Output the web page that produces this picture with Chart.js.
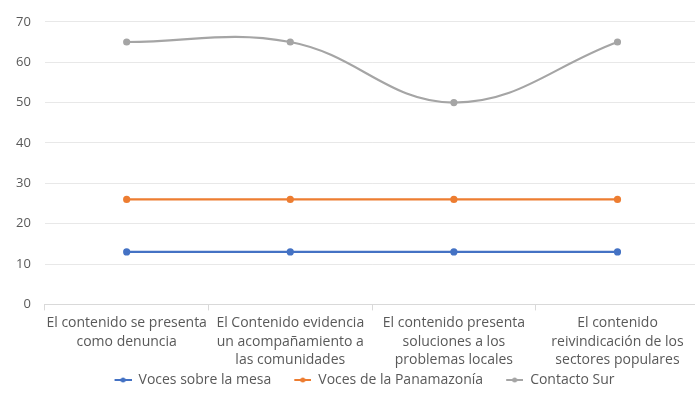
<!DOCTYPE html>
<html>
<head>
<meta charset="utf-8">
<script src="https://cdn.jsdelivr.net/npm/chart.js@4/dist/chart.umd.min.js"></script>
<style>
  body { margin: 0; background: #fff; }
  #wrap { width: 695px; height: 409px; overflow: hidden; }
</style>
</head>
<body>
<div id="wrap"><canvas id="lineChart" width="704" height="409"></canvas></div>
<script>
//Categories (x axis)
const categories = [
    ['El contenido se presenta', 'como denuncia'],
    ['El Contenido evidencia', 'un acompañamiento a', 'las comunidades'],
    ['El contenido presenta', 'soluciones a los', 'problemas locales'],
    ['El contenido', 'reivindicación de los', 'sectores populares']
];

//Series values
const vocesMesa = [13, 13, 13, 13];
const vocesPanamazonia = [26, 26, 26, 26];
const contactoSur = [65, 65, 50, 65];

const seriesColors = ['#4472c4', '#ed7d31', '#a5a5a5'];
const textColor = '#595959';
const fontFamily = '"Open Sans", "Noto Sans", sans-serif';

//Legend marker: a short line with a dot (Excel style), drawn on the right side
//of a wider transparent box so the items get spaced out
function legendMarker(color) {
    const c = document.createElement('canvas');
    c.width = 40;
    c.height = 8;
    const g = c.getContext('2d');
    g.strokeStyle = color;
    g.lineWidth = 2;
    g.beginPath();
    g.moveTo(23, 4);
    g.lineTo(40, 4);
    g.stroke();
    g.fillStyle = color;
    g.beginPath();
    g.arc(31.5, 4, 2.5, 0, Math.PI * 2);
    g.fill();
    return c;
}

//Builds one dataset
function makeSeries(label, values, color, tension) {
    return {
        label: label,
        data: values,
        borderColor: color,
        backgroundColor: color,
        borderWidth: 2.2,
        pointRadius: 2.5,
        pointHoverRadius: 2.5,
        tension: tension
    };
}

const data = {
    labels: categories,
    datasets: [
        makeSeries('Voces sobre la mesa', vocesMesa, seriesColors[0], 0),
        makeSeries('Voces de la Panamazonía', vocesPanamazonia, seriesColors[1], 0),
        makeSeries('Contacto Sur', contactoSur, seriesColors[2], 0.4)
    ]
};

const config = {
    type: 'line',
    data: data,
    options: {
        responsive: false,
        animation: false,
        layout: { padding: { left: 2, right: 0, top: 6, bottom: 20 } },
        plugins: {
            legend: {
                position: 'bottom',
                maxHeight: 16,
                labels: {
                    color: textColor,
                    font: { family: fontFamily, size: 14, lineHeight: 1 },
                    usePointStyle: true,
                    pointStyleWidth: 40,
                    boxHeight: 14,
                    padding: 0,
                    generateLabels: function (chart) {
                        const items = Chart.defaults.plugins.legend.labels.generateLabels(chart);
                        items.forEach((item, i) => {
                            item.pointStyle = legendMarker(seriesColors[i]);
                        });
                        return items;
                    }
                }
            },
            tooltip: { enabled: false }
        },
        scales: {
            x: {
                offset: true,
                grid: {
                    offset: true,
                    drawOnChartArea: false,
                    color: '#d9d9d9',
                    tickLength: 6
                },
                border: { color: '#d9d9d9' },
                ticks: {
                    color: textColor,
                    font: { family: fontFamily, size: 14, lineHeight: 1.3 },
                    maxRotation: 0,
                    autoSkip: false,
                    padding: 4
                }
            },
            y: {
                min: 0,
                max: 70,
                ticks: {
                    stepSize: 10,
                    color: textColor,
                    font: { family: fontFamily, size: 13 },
                    padding: 14
                },
                grid: { color: '#e8e8e8', drawTicks: false },
                border: { display: false }
            }
        }
    }
};

//Rendering the chart
const ctx = document.getElementById('lineChart').getContext('2d');
new Chart(ctx, config);
</script>
</body>
</html>
